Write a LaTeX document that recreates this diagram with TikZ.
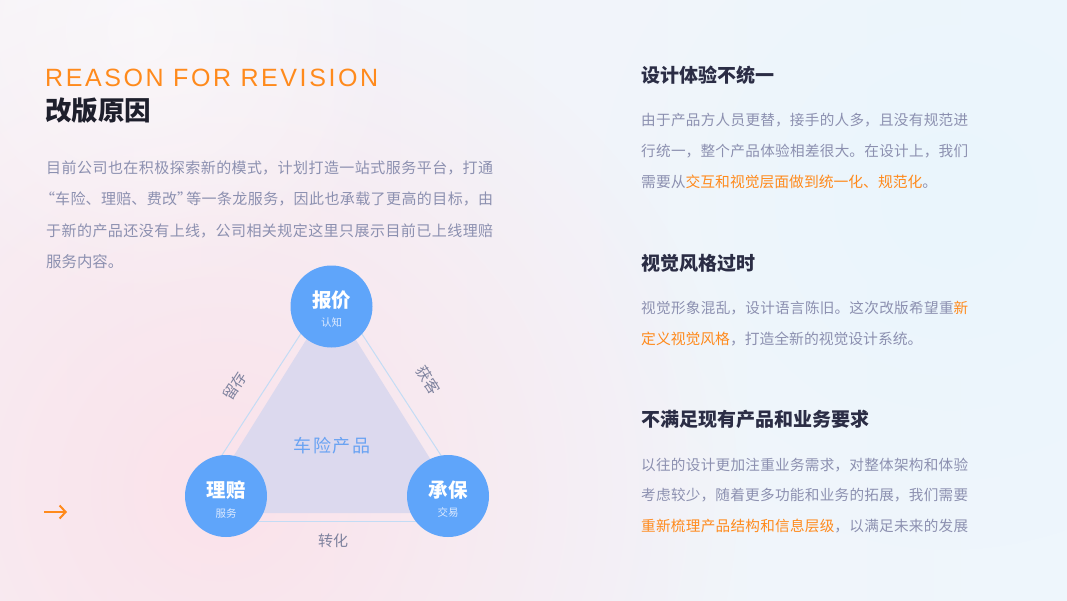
\documentclass[tikz,border=0pt]{standalone}
\usepackage{fontspec}
\setmainfont{Noto Sans CJK SC}
\newfontfamily\latinf{Liberation Sans}[LetterSpace=10.3]
\XeTeXlinebreaklocale "zh"
\XeTeXlinebreakskip=0pt plus 3pt minus 0.3pt
\usetikzlibrary{arrows.meta,fadings}
\definecolor{orangec}{HTML}{FF8A1C}
\definecolor{titledark}{HTML}{1E1F2C}
\definecolor{headdark}{HTML}{2B2D45}
\definecolor{paragray}{HTML}{8C90B0}
\definecolor{circblue}{HTML}{5FA5FA}
\definecolor{subwhite}{HTML}{DCEAFF}
\definecolor{centerblue}{HTML}{6AA3F3}
\definecolor{edgeblue}{HTML}{C3DCF5}
\definecolor{innerfill}{HTML}{DCD9EE}
\definecolor{pinkglow}{HTML}{FBE2EA}
\definecolor{blueglow}{HTML}{EAF5FD}
\definecolor{bgleft}{HTML}{F6F2F7}
\definecolor{bgright}{HTML}{EEF6FC}
\tikzfading[name=glow, inner color=transparent!0, outer color=transparent!100]
\tikzset{
  lpara/.style={anchor=west, inner sep=0pt, text=paragray, font=\fontsize{15}{18}\selectfont},
  ljust/.style={lpara, text width=447pt, align=justify, execute at begin node={\parfillskip=0pt\relax}},
  rpara/.style={anchor=west, inner sep=0pt, text=paragray, font=\fontsize{14.6}{18}\selectfont},
  rjust/.style={rpara, text width=327pt, align=justify, execute at begin node={\parfillskip=0pt\relax}},
  rhead/.style={anchor=west, inner sep=0pt, text=headdark, font=\fontsize{19}{22}\selectfont\bfseries},
  bubble/.style={circle, fill=circblue, minimum size=82pt, inner sep=0pt},
  bmain/.style={inner sep=0pt, text=white, font=\fontsize{19.5}{22}\selectfont\bfseries},
  bsub/.style={inner sep=0pt, text=subwhite, font=\fontsize{10.5}{12}\selectfont},
  elabel/.style={inner sep=0pt, text=paragray!90!black, font=\fontsize{15}{18}\selectfont},
  edgeline/.style={draw=edgeblue, line width=1pt},
}
\newcommand{\hl}[1]{\textcolor{orangec}{#1}}
\newcommand{\openq}{\makebox[9pt][r]{“}}
\newcommand{\closeq}{\makebox[9pt][l]{”}}
\begin{document}
\begin{tikzpicture}[x=1pt, y=-1pt]
\useasboundingbox (0,0) rectangle (1067,600);
% background
\shade[left color=bgleft, right color=bgright] (0,0) rectangle (1067,600);
\fill[pinkglow, path fading=glow] (220,490) circle (520);
\fill[blueglow, path fading=glow] (950,200) circle (350);
\fill[white, opacity=0.45, path fading=glow] (140,30) circle (280);

% title
\node[anchor=west, inner sep=0pt, text=orangec, font=\fontsize{25}{28}\selectfont\latinf] (title) at (45,78) {REASON FOR REVISION};
\node[anchor=west, inner sep=0pt, text=titledark, font=\fontsize{26.5}{30}\selectfont\bfseries] (subtitle) at (45,111) {改版原因};

% left paragraph
\node[ljust] (l1) at (46,168) {目前公司也在积极探索新的模式，计划打造一站式服务平台，打通};
\node[ljust] (l2) at (46,199) {\openq 车险、理赔、费改\closeq 等一条龙服务，因此也承载了更高的目标，由};
\node[ljust] (l3) at (46,230.5) {于新的产品还没有上线，公司相关规定这里只展示目前已上线理赔};
\node[lpara, font=\fontsize{15.4}{18}\selectfont] (l4) at (46,262) {服务内容。};

% arrow
\coordinate (arrS) at (44,512);
\coordinate (arrE) at (67,512);
\draw[orangec, line width=2pt, -{Straight Barb[length=6pt,width=13pt]}] (arrS) -- (arrE);

% diagram
\fill[innerfill] (331,300) -- (198,513) -- (464,513) -- cycle;
\coordinate (eL1) at (302.7,330.8);
\coordinate (eL2) at (219.3,459.2);
\coordinate (eR1) at (360,331);
\coordinate (eR2) at (444,460);
\coordinate (eB1) at (258,521.5);
\coordinate (eB2) at (416,521.5);
\draw[edgeline] (eL1) -- (eL2);
\draw[edgeline] (eR1) -- (eR2);
\draw[edgeline, line width=1.5pt] (eB1) -- (eB2);

\node[bubble] (ctop) at (331.5,306.5) {};
\node[bubble] (cleft) at (226,496) {};
\node[bubble] (cright) at (448,496) {};

\node[bmain] (ttop) at (331.5,300) {报价};
\node[bsub] (stop) at (331.5,322.5) {认知};
\node[bmain] (tleft) at (226,490) {理赔};
\node[bsub] (sleft) at (226,513.5) {服务};
\node[bmain] (tright) at (448,490) {承保};
\node[bsub] (sright) at (448,512.5) {交易};

\node[inner sep=0pt, text=centerblue, font=\fontsize{18}{20}\selectfont\addfontfeature{LetterSpace=8}] (center) at (332,446) {车险产品};

\node[elabel, rotate=57] (lstay) at (235,386) {留存};
\node[elabel, rotate=-57] (lget) at (428,380) {获客};
\node[elabel] (lconv) at (333,541) {转化};

% right column
\node[rhead] (h1) at (641,75) {设计体验不统一};
\node[rjust] (p11) at (641,120) {由于产品方人员更替，接手的人多，且没有规范进};
\node[rjust] (p12) at (641,151) {行统一，整个产品体验相差很大。在设计上，我们};
\node[rpara, font=\fontsize{14.8}{18}\selectfont] (p13) at (641,182) {需要从\hl{交互和视觉层面做到统一化、规范化}。};

\node[rhead] (h2) at (641,263.5) {视觉风格过时};
\node[rjust] (p21) at (641,308) {视觉形象混乱，设计语言陈旧。这次改版希望重\hl{新}};
\node[rpara, font=\fontsize{14.8}{18}\selectfont] (p22) at (641,339) {\hl{定义视觉风格}，打造全新的视觉设计系统。};

\node[rhead] (h3) at (641,419.5) {不满足现有产品和业务要求};
\node[rjust] (p31) at (641,465) {以往的设计更加注重业务需求，对整体架构和体验};
\node[rjust] (p32) at (641,495.5) {考虑较少，随着更多功能和业务的拓展，我们需要};
\node[rjust] (p33) at (641,526.5) {\hl{重新梳理产品结构和信息层级}，以满足未来的发展};
\end{tikzpicture}
\end{document}
